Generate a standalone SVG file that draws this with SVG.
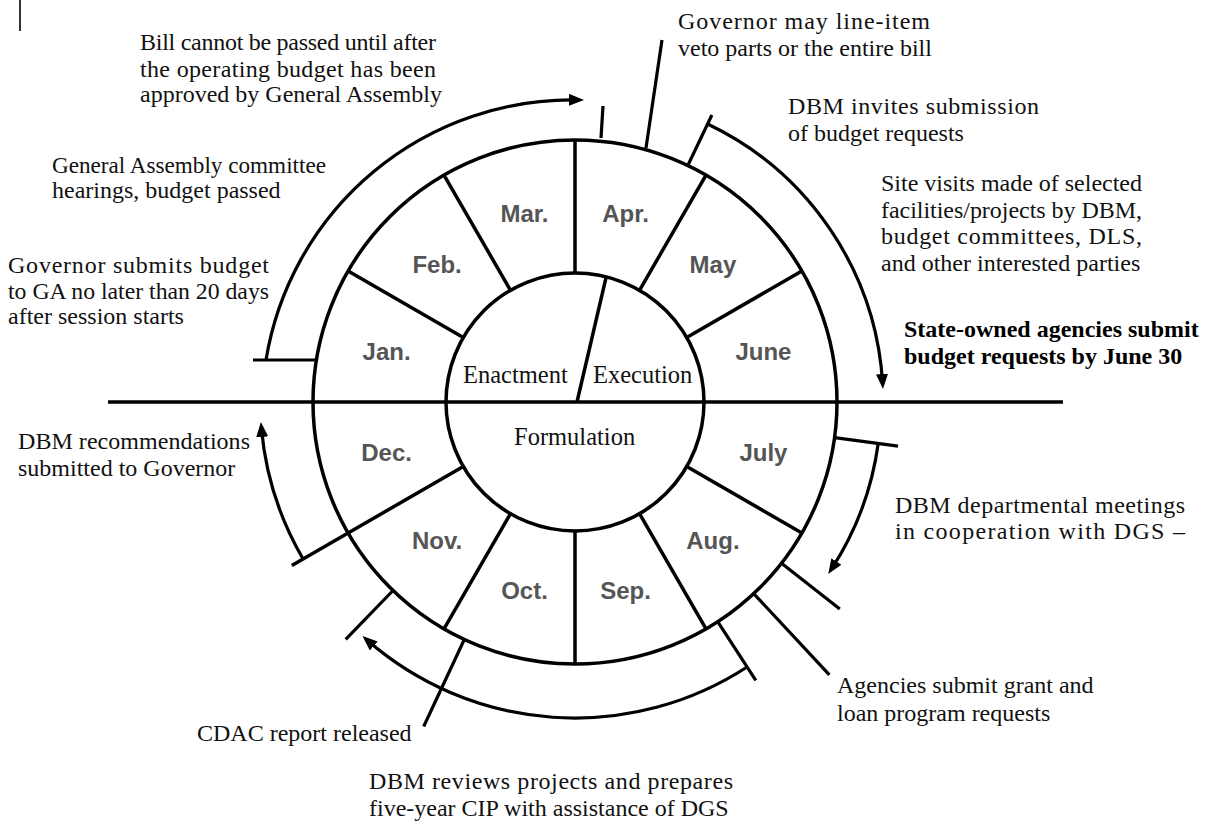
<svg xmlns="http://www.w3.org/2000/svg" width="1210" height="821" viewBox="0 0 1210 821">
<style>
.ln{stroke:#000;stroke-width:3.5;fill:none;stroke-linecap:butt}
.cn{stroke:#000;stroke-width:3.2;fill:none}
.mo{font-family:"Liberation Sans",Arial,sans-serif;font-weight:bold;font-size:24px;fill:#555;text-anchor:middle}
.tx{font-family:"Liberation Serif","Times New Roman",serif;font-size:24px;fill:#111}
.bd{font-family:"Liberation Serif","Times New Roman",serif;font-size:24px;font-weight:bold;fill:#000}
.ph{font-family:"Liberation Serif","Times New Roman",serif;font-size:24.5px;fill:#111}
</style>
<defs>
<marker id="ah" markerWidth="16" markerHeight="12" refX="9" refY="6" orient="auto" markerUnits="userSpaceOnUse">
<path d="M0,0 L15,6 L0,12 Z" fill="#000"/>
</marker>
</defs>
<rect width="1210" height="821" fill="#fff"/>
<line x1="20" y1="0" x2="20" y2="31" stroke="#000" stroke-width="1.6"/>

<g id="wheel">
<line class="ln" x1="108" y1="402" x2="1063" y2="402" stroke-width="4"/>
<circle class="ln" cx="575" cy="402" r="262"/>
<circle class="ln" cx="575" cy="402" r="129"/>
<line class="ln" x1="575" y1="273" x2="575" y2="140"/>
<line class="ln" x1="639.5" y1="290.3" x2="706" y2="175.1"/>
<line class="ln" x1="686.7" y1="337.5" x2="801.9" y2="271"/>
<line class="ln" x1="686.7" y1="466.5" x2="801.9" y2="533"/>
<line class="ln" x1="639.5" y1="513.7" x2="706" y2="628.9"/>
<line class="ln" x1="575" y1="531" x2="575" y2="664"/>
<line class="ln" x1="510.5" y1="513.7" x2="444" y2="628.9"/>
<line class="ln" x1="463.3" y1="466.5" x2="291.8" y2="565.5"/>
<line class="ln" x1="463.3" y1="337.5" x2="348.1" y2="271"/>
<line class="ln" x1="510.5" y1="290.3" x2="444" y2="175.1"/>
<line class="ln" x1="577" y1="402" x2="606.2" y2="276.8"/>
</g>

<g id="months">
<text class="mo" x="524.5" y="222">Mar.</text>
<text class="mo" x="625.5" y="222">Apr.</text>
<text class="mo" x="712.9" y="272.5">May</text>
<text class="mo" x="763.4" y="360">June</text>
<text class="mo" x="763.4" y="461">July</text>
<text class="mo" x="712.9" y="548.5">Aug.</text>
<text class="mo" x="625.5" y="599">Sep.</text>
<text class="mo" x="524.5" y="599">Oct.</text>
<text class="mo" x="437.1" y="548.5">Nov.</text>
<text class="mo" x="386.6" y="461">Dec.</text>
<text class="mo" x="386.6" y="360">Jan.</text>
<text class="mo" x="437.1" y="272.5">Feb.</text>
</g>

<g id="phases">
<text class="ph" x="463" y="383">Enactment</text>
<text class="ph" x="593" y="383">Execution</text>
<text class="ph" x="514" y="445">Formulation</text>
</g>

<g id="connectors">
<line class="cn" x1="253" y1="360" x2="316" y2="360"/>
<path class="cn" d="M266,360 A310,310 0 0 1 578,100" marker-end="url(#ah)"/>
<line class="cn" x1="601" y1="138" x2="603" y2="106"/>
<line class="cn" x1="646" y1="148" x2="662" y2="40"/>
<line class="cn" x1="687.8" y1="165.5" x2="711.9" y2="115"/>
<path class="cn" d="M707.6,124 A308,308 0 0 1 882.6,383" marker-end="url(#ah)"/>
<line class="cn" x1="834.6" y1="437.6" x2="898" y2="446.2"/>
<path class="cn" d="M878.2,443.5 A306,306 0 0 1 831.5,569" marker-end="url(#ah)"/>
<line class="cn" x1="781.5" y1="563.3" x2="839.8" y2="608.9"/>
<line class="cn" x1="753.7" y1="593.6" x2="829.4" y2="674.8"/>
<line class="cn" x1="717.7" y1="621.7" x2="755.8" y2="680.4"/>
<path class="cn" d="M747.1,667 A316,316 0 0 1 367,640" marker-end="url(#ah)"/>
<line class="cn" x1="464.3" y1="639.5" x2="423.7" y2="726.5"/>
<line class="cn" x1="393" y1="590.5" x2="345.7" y2="639.4"/>
<path class="cn" d="M303.1,559 A314,314 0 0 1 261.4,428" marker-end="url(#ah)"/>
</g>

<g id="notes">
<text class="tx" x="140" y="50" textLength="296" lengthAdjust="spacing">Bill cannot be passed until after</text>
<text class="tx" x="140" y="77" textLength="296" lengthAdjust="spacing">the operating budget has been</text>
<text class="tx" x="140" y="102">approved by General Assembly</text>
<text class="tx" x="52" y="173" textLength="274" lengthAdjust="spacingAndGlyphs">General Assembly committee</text>
<text class="tx" x="52" y="198">hearings, budget passed</text>
<text class="tx" x="8" y="273" textLength="261" lengthAdjust="spacing">Governor submits budget</text>
<text class="tx" x="8" y="299" textLength="261" lengthAdjust="spacingAndGlyphs">to GA no later than 20 days</text>
<text class="tx" x="8" y="324">after session starts</text>
<text class="tx" x="678" y="29" textLength="252" lengthAdjust="spacing">Governor may line-item</text>
<text class="tx" x="678" y="56">veto parts or the entire bill</text>
<text class="tx" x="788" y="114" textLength="251" lengthAdjust="spacing">DBM invites submission</text>
<text class="tx" x="788" y="141">of budget requests</text>
<text class="tx" x="881" y="191" textLength="261" lengthAdjust="spacing">Site visits made of selected</text>
<text class="tx" x="881" y="218" textLength="261" lengthAdjust="spacing">facilities/projects by DBM,</text>
<text class="tx" x="881" y="244" textLength="261" lengthAdjust="spacing">budget committees, DLS,</text>
<text class="tx" x="881" y="271">and other interested parties</text>
<text class="bd" x="904" y="337">State-owned agencies submit</text>
<text class="bd" x="904" y="364">budget requests by June 30</text>
<text class="tx" x="18" y="449" textLength="232" lengthAdjust="spacing">DBM recommendations</text>
<text class="tx" x="18" y="476">submitted to Governor</text>
<text class="tx" x="895" y="513" textLength="290" lengthAdjust="spacing">DBM departmental meetings</text>
<text class="tx" x="895" y="539" textLength="290" lengthAdjust="spacing">in cooperation with DGS –</text>
<text class="tx" x="837" y="693">Agencies submit grant and</text>
<text class="tx" x="837" y="721">loan program requests</text>
<text class="tx" x="197" y="741">CDAC report released</text>
<text class="tx" x="369" y="789" textLength="364" lengthAdjust="spacing">DBM reviews projects and prepares</text>
<text class="tx" x="369" y="816">five-year CIP with assistance of DGS</text>
</g>
</svg>
